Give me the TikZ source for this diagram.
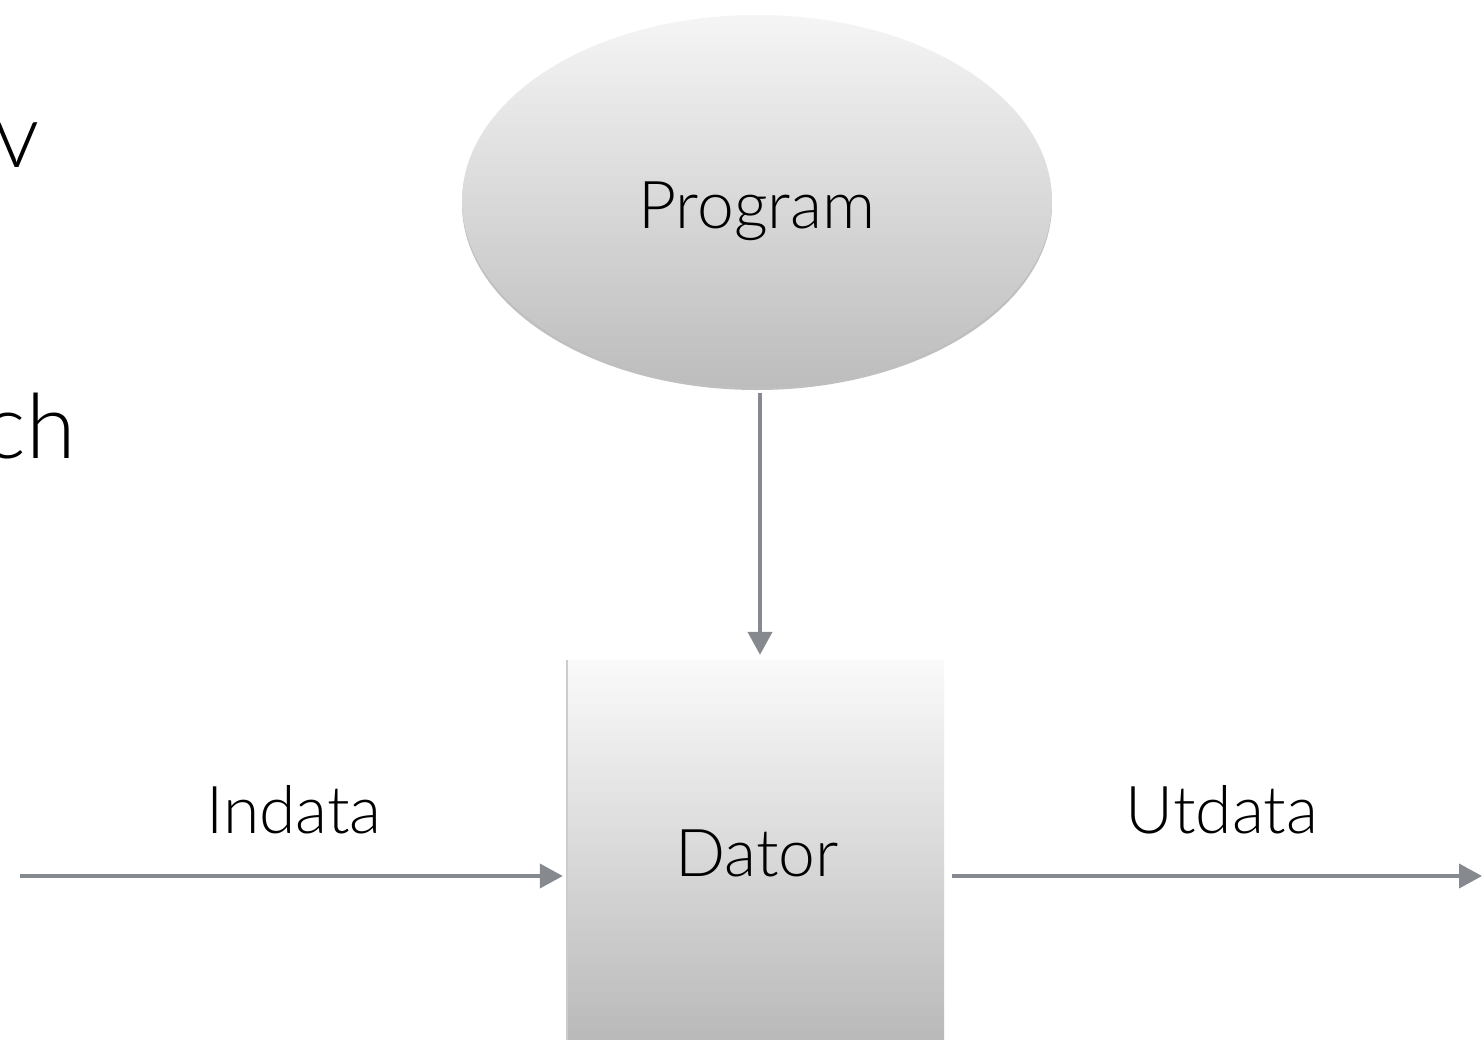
\documentclass[tikz,border=0pt]{standalone}
\usepackage{fontspec}
\setmainfont{Lato}[UprightFont={* Light}]
\usetikzlibrary{arrows.meta,shadows,calc,shapes.geometric}

\definecolor{arrowgray}{HTML}{868A8E}

\tikzset{
  flow/.style={draw=arrowgray, line width=4pt,
    -{Triangle[length=23pt,width=24pt]}},
  blob/.style={ellipse, minimum width=590pt, minimum height=372pt, inner sep=0pt,
    top color=white!96!black, bottom color=white!74!black,
    drop shadow={shadow xshift=0pt, shadow yshift=-3pt, opacity=0.25, fill=black}},
  unit/.style={rectangle, minimum width=376pt, minimum height=420pt, inner sep=0pt,
    top color=white!98!black, bottom color=white!70!black,
    drop shadow={shadow xshift=-2pt, shadow yshift=0pt, opacity=0.2, fill=black}},
  lbl/.style={font=\fontsize{66pt}{70pt}\selectfont, text=black, inner sep=0pt},
  big/.style={font=\fontsize{90pt}{96pt}\selectfont, text=black, inner sep=0pt}
}

\begin{document}
\begin{tikzpicture}[x=1pt, y=-1pt]
  \useasboundingbox (0,0) rectangle (1482,1039);
  \fill[white] (0,0) rectangle (1482,1039);

  % side text running off the left edge
  \node[big, anchor=base east] (sidev) at (40,167) {v};
  \node[big, anchor=base east] (sidech) at (76,458) {ch};

  % program ellipse
  \node[blob] (prog) at (757,201) {};
  \node[lbl, anchor=base] (progtext) at (757,228) {Program};

  % computer box, continuing below the lower edge
  \node[unit] (dator) at (756,870) {};
  \node[lbl, anchor=base] (datortext) at (757,876) {Dator};

  % program feeds the computer
  \draw[flow, shorten <=6pt, shorten >=5pt] (prog.south -| 760,0) -- (dator.north -| 760,0);

  % input and output
  \coordinate (inend) at (20,876);
  \coordinate (outend) at (1482,876);
  \draw[flow, shorten >=5pt] (inend) -- (inend -| dator.west);
  \draw[flow, shorten <=8pt] (outend -| dator.east) -- (outend);

  \node[lbl, anchor=base] (indata) at (294,833) {Indata};
  \node[lbl, anchor=base] (utdata) at (1222,833) {Utdata};
\end{tikzpicture}
\end{document}
